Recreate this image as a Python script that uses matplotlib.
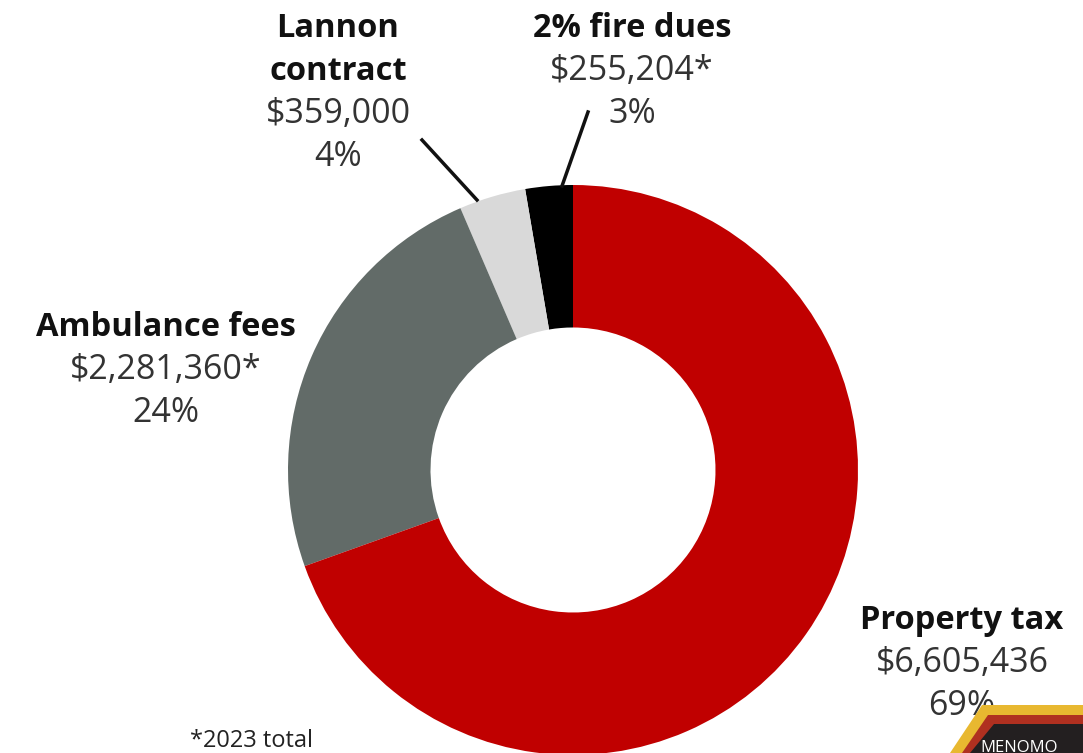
import matplotlib.pyplot as plt
from matplotlib.patches import Polygon

# data
titles = [['2% fire dues'], ['Lannon', 'contract'], ['Ambulance fees'], ['Property tax']]
amounts = [255204, 359000, 2281360, 6605436]
amount_text = ['$255,204*', '$359,000', '$2,281,360*', '$6,605,436']
pct_text = ['3%', '4%', '24%', '69%']
colors = ['#000000', '#d9d9d9', '#626b68', '#c00000']

W, H = 1083, 753
fig = plt.figure(figsize=(W / 100, H / 100), dpi=100)
ax = fig.add_axes([0, 0, 1, 1])

cx, cy, r = 573, H - 470, 285
ax.pie(amounts, colors=colors, startangle=90, counterclock=True,
       center=(cx, cy), radius=r, wedgeprops=dict(width=r * 0.5, linewidth=0))

ax.set_xlim(0, W)
ax.set_ylim(0, H)
ax.set_aspect('equal')
ax.axis('off')

font = 'Open Sans'
pitch = 43

def label(x, y_base, title_lines, sub_lines):
    y = y_base
    for t in title_lines:
        ax.text(x, H - y, t, ha='center', va='baseline', fontsize=23.5,
                fontweight='bold', family=font, color='#111111')
        y += pitch
    for t in sub_lines:
        ax.text(x, H - y, t, ha='center', va='baseline', fontsize=24.5,
                family=font, color='#333333')
        y += pitch

label(632, 37, titles[0], [amount_text[0], pct_text[0]])
label(338, 37, titles[1], [amount_text[1], pct_text[1]])
label(166, 336, titles[2], [amount_text[2], pct_text[2]])
label(962, 629, titles[3], [amount_text[3], pct_text[3]])

# leader lines
ax.plot([422, 477], [H - 140, H - 200], color='#111111', lw=2.5)
ax.plot([588, 562], [H - 112, H - 186], color='#111111', lw=2.5)

ax.text(190, H - 747, '*2023 total', ha='left', va='baseline', fontsize=17,
        family=font, color='#222222')

# badge in the corner
ax.add_patch(Polygon([(950, 0), (982, H - 705), (W, H - 705), (W, 0)],
                     closed=True, color='#e8b830', lw=0, zorder=5))
ax.add_patch(Polygon([(962, 0), (988, H - 715), (W, H - 715), (W, 0)],
                     closed=True, color='#b03020', lw=0, zorder=6))
ax.add_patch(Polygon([(970, 0), (994, H - 724), (W, H - 724), (W, 0)],
                     closed=True, color='#231f20', lw=0, zorder=7))
ax.text(980, 1, 'MENOMO', ha='left', va='baseline', fontsize=12,
        color='white', family=font, zorder=8)

fig.savefig('out.png', dpi=100)
